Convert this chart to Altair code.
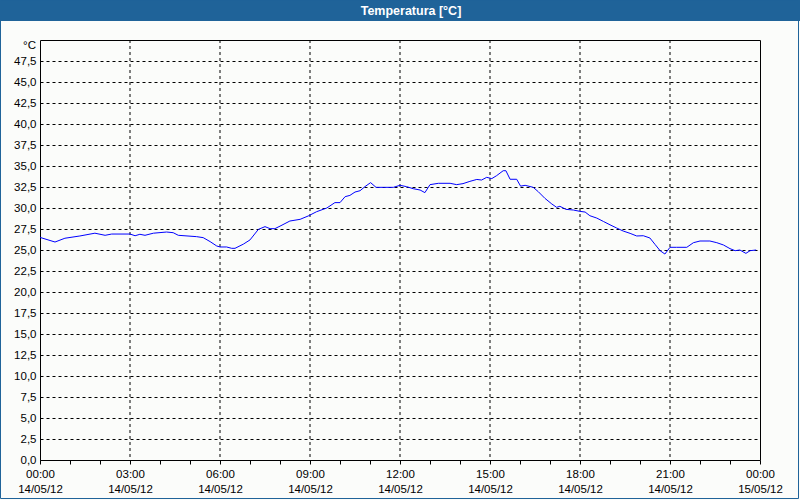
import altair as alt
import pandas as pd

# ---- data ----
hours = [0, 0.5, 0.83, 1.33, 1.83, 2.17, 2.39, 3.0, 3.17, 3.33, 3.5, 3.78, 4.22, 4.44, 4.61,
         5.22, 5.44, 5.67, 5.89, 6.0, 6.22, 6.39, 6.5, 6.78, 7.0, 7.28, 7.5, 7.67, 7.83, 8.0,
         8.33, 8.67, 8.94, 9.22, 9.56, 9.83, 10.0, 10.17, 10.33, 10.5, 10.67, 10.83, 11.02,
         11.2, 11.44, 11.78, 12.0, 12.22, 12.44, 12.67, 12.83, 13.0, 13.28, 13.67, 13.89,
         14.1, 14.33, 14.56, 14.72, 14.89, 15.06, 15.22, 15.44, 15.53, 15.67, 15.89, 16.02,
         16.17, 16.44, 16.61, 16.83, 17.06, 17.22, 17.33, 17.53, 17.78, 18.0, 18.17, 18.33,
         18.56, 18.78, 19.0, 19.22, 19.44, 19.67, 19.89, 20.11, 20.33, 20.5, 20.67, 20.83,
         21.0, 21.22, 21.56, 21.78, 22.0, 22.33, 22.56, 22.78, 23.0, 23.17, 23.33, 23.53,
         23.67, 23.87]
temps = [26.5, 25.95, 26.4, 26.67, 27.0, 26.75, 26.9, 26.9, 26.7, 26.87, 26.75, 27.0, 27.14,
         27.06, 26.75, 26.59, 26.47, 26.0, 25.48, 25.36, 25.36, 25.2, 25.2, 25.7, 26.2, 27.46,
         27.78, 27.54, 27.54, 27.84, 28.45, 28.65, 29.05, 29.56, 30.0, 30.64, 30.64, 31.35,
         31.5, 31.9, 32.06, 32.54, 33.02, 32.46, 32.46, 32.46, 32.7, 32.54, 32.3, 32.14,
         31.83, 32.78, 32.94, 32.94, 32.78, 32.9, 33.17, 33.4, 33.33, 33.65, 33.5, 33.85,
         34.44, 34.44, 33.42, 33.42, 32.6, 32.7, 32.46, 31.94, 31.15, 30.48, 30.08, 30.2,
         29.84, 29.76, 29.6, 29.52, 29.08, 28.8, 28.4, 28.0, 27.62, 27.26, 26.98, 26.67,
         26.7, 26.43, 25.67, 24.92, 24.52, 25.32, 25.32, 25.32, 25.87, 26.07, 26.07, 25.87,
         25.6, 25.16, 24.92, 25.0, 24.6, 24.92, 25.0]

major_hours = [0, 3, 6, 9, 12, 15, 18, 21, 24]
time_labels = ["00:00", "03:00", "06:00", "09:00", "12:00", "15:00", "18:00", "21:00", "00:00"]
date_labels = ["14/05/12"] * 8 + ["15/05/12"]
minor_hours = list(range(0, 25))
y_ticks = [i * 2.5 for i in range(0, 20)]  # 0 .. 47.5

title_text = "Temperatura [°C]"
unit_text = "°C"

BLUE = "#1f6399"
FONT = "Liberation Sans"

df = pd.DataFrame({"h": hours, "t": temps})

x_scale = alt.Scale(domain=[0, 24], nice=False, zero=False)
y_scale = alt.Scale(domain=[0, 50], nice=False, zero=False)

tl = "[" + ",".join("'%s'" % s for s in time_labels) + "]"
dl = "[" + ",".join("'%s'" % s for s in date_labels) + "]"
label_expr = f"datum.value % 3 == 0 ? [{tl}[datum.value / 3], {dl}[datum.value / 3]] : ''"

x_axis = alt.Axis(values=minor_hours, title=None, grid=False, domain=False,
                  tickSize=4, tickColor="black", tickWidth=1,
                  labelExpr=label_expr, labelOverlap=False, labelFlush=False,
                  labelFont=FONT, labelFontSize=11.5, labelColor="black",
                  labelPadding=4, labelLineHeight=15, labelBaseline="top")

line = alt.Chart(df).mark_line(color="#0000ff", strokeWidth=1, interpolate="linear").encode(
    x=alt.X("h:Q", scale=x_scale, axis=x_axis),
    y=alt.Y("t:Q", scale=y_scale,
            axis=alt.Axis(values=y_ticks, title=None, ticks=False, domain=False,
                          grid=True, gridColor="black", gridDash=[3, 3], gridWidth=1,
                          gridOpacity=1,
                          labelExpr="replace(format(datum.value, '.1f'), '.', ',')",
                          labelFont=FONT, labelFontSize=11.5, labelColor="black",
                          labelPadding=4)),
)

vgrid = alt.Chart(pd.DataFrame({"h": major_hours[1:-1]})).mark_rule(
    color="black", strokeDash=[3, 3], strokeWidth=1
).encode(x=alt.X("h:Q", scale=x_scale, axis=x_axis), y=alt.value(0), y2=alt.value(420))

one = alt.Data(values=[{}])

title_bar = alt.Chart(one).mark_rect(color=BLUE).encode(
    x=alt.value(-40), x2=alt.value(760), y=alt.value(-40), y2=alt.value(-19)
)
title = alt.Chart(one).mark_text(
    text=title_text, color="white", font=FONT, fontSize=12.5, fontWeight="bold",
    align="center", baseline="middle"
).encode(x=alt.value(371), y=alt.value(-29.5))

frame = alt.Chart(one).mark_rect(fill=None, stroke=BLUE, strokeWidth=1, filled=False).encode(
    x=alt.value(-39.5), x2=alt.value(758.5), y=alt.value(-40), y2=alt.value(458.5)
)

unit = alt.Chart(one).mark_text(
    text=unit_text, color="black", font=FONT, fontSize=11.5, align="right", baseline="middle"
).encode(x=alt.value(-4), y=alt.value(5.5))

chart = alt.layer(vgrid, line, title_bar, title, frame, unit).properties(
    width=720, height=420,
    autosize=alt.AutoSizeParams(type="none"),
    padding={"left": 40, "top": 40, "right": 40, "bottom": 40},
    background="#fbfcfa",
).configure_view(stroke="black", strokeWidth=1).configure_axisX(labelOverlap=False)

chart.save("out.html", embed_options={"renderer": "svg", "actions": False})
